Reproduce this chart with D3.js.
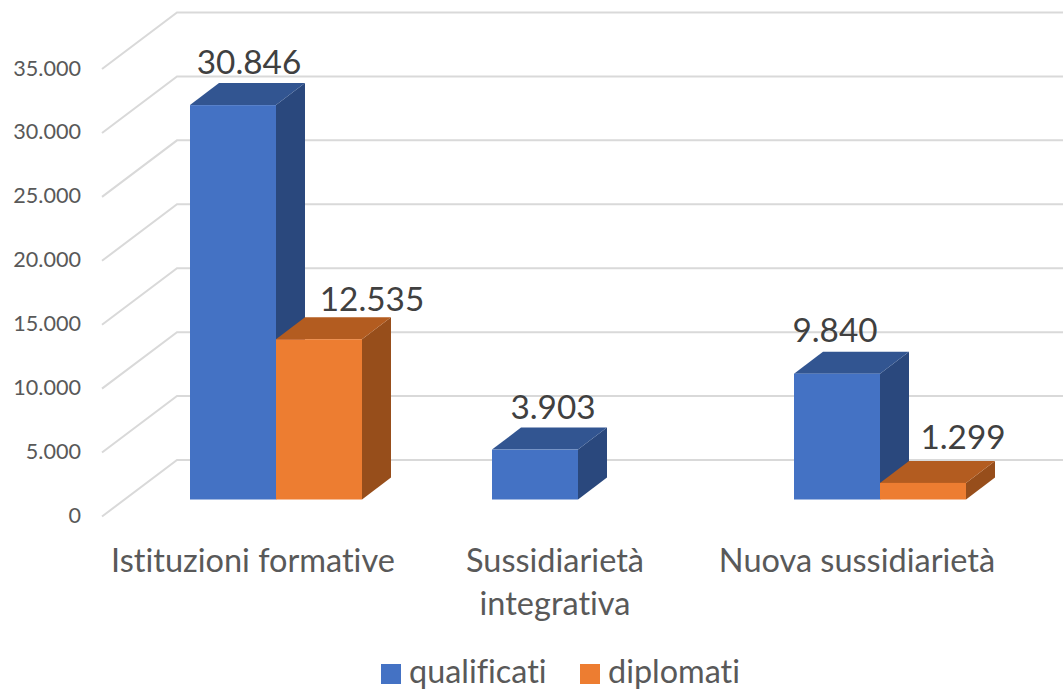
<!DOCTYPE html>
<html><head><meta charset="utf-8">
<script src="https://cdn.jsdelivr.net/npm/d3@7"></script>
<style>
html,body{margin:0;padding:0;background:#fff}
svg{display:block}
text{font-family:Lato,"Noto Sans",sans-serif;font-variant-ligatures:none}
</style></head><body>
<svg id="c" width="1063" height="689"></svg>
<script>
const categories = ["Istituzioni formative", "Sussidiarietà integrativa", "Nuova sussidiarietà"];
const seriesNames = ["qualificati", "diplomati"];
const qualificati = [30846, 3903, 9840];
const diplomati = [12535, null, 1299];
const tickValues = [0, 5000, 10000, 15000, 20000, 25000, 30000, 35000];

const fmt = v => d3.format(",")(v).replace(/,/g, ".");
const svg = d3.select("#c");
const colors = {
  qualificati: {front:"#4472C4", top:"#325591", side:"#2A487D"},
  diplomati: {front:"#ED7D31", top:"#B35C20", side:"#974E1B"}
};
const y = d3.scaleLinear().domain([0, 35000]).range([460, 12.5]);
const x = d3.scaleBand().domain(categories).range([125, 1031]).padding(0);
const barW = 86, depthX = 29, depthY = 22, frontDrop = 39.5;
const gridFrontX = 102, gridBackX = 177, gridDrop = 56.5, gridRight = 1063;

// gridlines
svg.append("g").selectAll("path").data(tickValues).join("path")
  .attr("d", d => `M${gridFrontX},${y(d)+gridDrop}L${gridBackX},${y(d)}L${gridRight},${y(d)}`)
  .attr("fill","none").attr("stroke","#D9D9D9").attr("stroke-width",2);

// tick labels
svg.append("g").selectAll("text").data(tickValues).join("text")
  .attr("x",81).attr("y",d=>y(d)+55.5).attr("dy","0.35em").attr("text-anchor","end")
  .attr("font-size",21.6).attr("fill","#595959").text(fmt);

// bars
const series = [
  {name:"qualificati", values:qualificati, off:-86},
  {name:"diplomati", values:diplomati, off:0}
];
const gBars = svg.append("g");
categories.forEach((c,i)=>{
  series.forEach(s=>{
    const v = s.values[i];
    if (v==null) return;
    const col = colors[s.name];
    const x0 = x(c)+x.bandwidth()/2 + s.off, x1 = x0+barW;
    const yT = y(v)+frontDrop, yB = y(0)+frontDrop;
    gBars.append("path").attr("fill",col.side)
      .attr("d",`M${x1},${yT}L${x1+depthX},${yT-depthY}L${x1+depthX},${yB-depthY}L${x1},${yB}Z`);
    gBars.append("path").attr("fill",col.top)
      .attr("d",`M${x0},${yT}L${x0+depthX},${yT-depthY}L${x1+depthX},${yT-depthY}L${x1},${yT}Z`);
    gBars.append("rect").attr("x",x0).attr("y",yT).attr("width",barW).attr("height",yB-yT).attr("fill",col.front);
  });
});

// data labels (manually placed offsets relative to each bar's front-top centre)
const labelOffsets = {
  qualificati:[[16,-31],[18,-31],[-2,-32]],
  diplomati:[[53,-28],null,[40,-34]]
};
const gLab = svg.append("g");
categories.forEach((c,i)=>{
  series.forEach(s=>{
    const v = s.values[i];
    if (v==null) return;
    const o = labelOffsets[s.name][i];
    gLab.append("text")
      .attr("x",x(c)+x.bandwidth()/2+s.off+barW/2+o[0])
      .attr("y",y(v)+frontDrop+o[1])
      .attr("text-anchor","middle").attr("font-size",33.3).attr("fill","#404040").text(fmt(v));
  });
});

// category labels
const catLines = {"Sussidiarietà integrativa":["Sussidiarietà","integrativa"]};
const gCat = svg.append("g");
categories.forEach(c=>{
  const lines = catLines[c]||[c];
  lines.forEach((l,k)=>{
    gCat.append("text").attr("x",x(c)+x.bandwidth()/2-23).attr("y",572+k*42.5)
      .attr("text-anchor","middle").attr("font-size",32.5).attr("fill","#595959").text(l);
  });
});

// legend
const legendX = [381,580];
const gLeg = svg.append("g");
seriesNames.forEach((n,i)=>{
  gLeg.append("rect").attr("x",legendX[i]).attr("y",664).attr("width",20).attr("height",20).attr("fill",colors[n].front);
  gLeg.append("text").attr("x",legendX[i]+28).attr("y",683).attr("font-size",32.4).attr("fill","#595959").text(n);
});
</script>
</body></html>
